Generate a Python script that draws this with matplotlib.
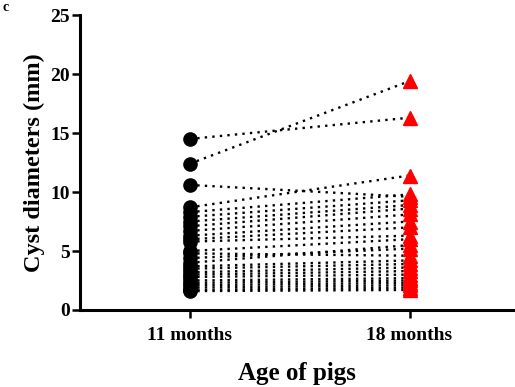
import matplotlib.pyplot as plt

# cyst diameters (mm) of the same pigs at two ages
months_11 = [14.5, 12.4, 10.6, 8.7, 8.3, 7.9, 7.5, 7.1, 6.7, 6.3, 6.0, 5.8,
             5.0, 4.8, 4.4, 4.0, 3.7, 3.5, 3.2, 3.0, 2.8, 2.5, 2.3, 2.1,
             1.9, 1.7, 1.6]
months_18 = [16.3, 19.4, 9.6, 11.4, 9.8, 9.3, 8.9, 8.6, 8.1, 7.5, 7.0, 6.3,
             6.0, 4.6, 5.2, 5.5, 4.2, 3.9, 3.6, 3.3, 3.0, 2.7, 2.5, 2.3,
             2.1, 1.9, 1.7]
ages = ["11 months", "18 months"]

plt.rcParams["font.family"] = ["Liberation Serif", "DejaVu Serif"]
plt.rcParams["font.weight"] = "bold"

fig = plt.figure(figsize=(5.15, 3.87), dpi=100)
ax = fig.add_axes([0.155, 0.199, 0.845, 0.762])

for a, b in zip(months_11, months_18):
    ax.plot([0, 1], [a, b], color="black", ls=(0, (1, 2.2)), lw=1.7, zorder=1)
ax.plot([0] * len(months_11), months_11, "o", color="black", ms=9.5,
        ls="none", zorder=3)
ax.plot([1] * len(months_18), months_18, "^", color="#ff0000", ms=10,
        ls="none", zorder=3)

ax.set_xlim(-0.5, 1.48)
ax.set_ylim(0, 25)
ax.set_yticks([0, 5, 10, 15, 20, 25])
ax.set_xticks([0, 1])
ax.set_xticklabels(ages)
ax.set_ylabel("Cyst diameters (mm)", fontsize=17.5, fontweight="bold", labelpad=4)
ax.set_xlabel("Age of pigs", fontsize=18, fontweight="bold", labelpad=13)
ax.tick_params(labelsize=14, width=1.8, length=6)
ax.tick_params(axis="y", pad=1)
ax.tick_params(axis="x", pad=6)

for side in ["top", "right"]:
    ax.spines[side].set_visible(False)
for side in ["left", "bottom"]:
    ax.spines[side].set_linewidth(2.2)

# panel letter in the top-left corner
fig.text(0.004, 0.998, "c", fontsize=10, fontweight="bold", va="top", ha="left")

fig.savefig("out.png", dpi=100)
